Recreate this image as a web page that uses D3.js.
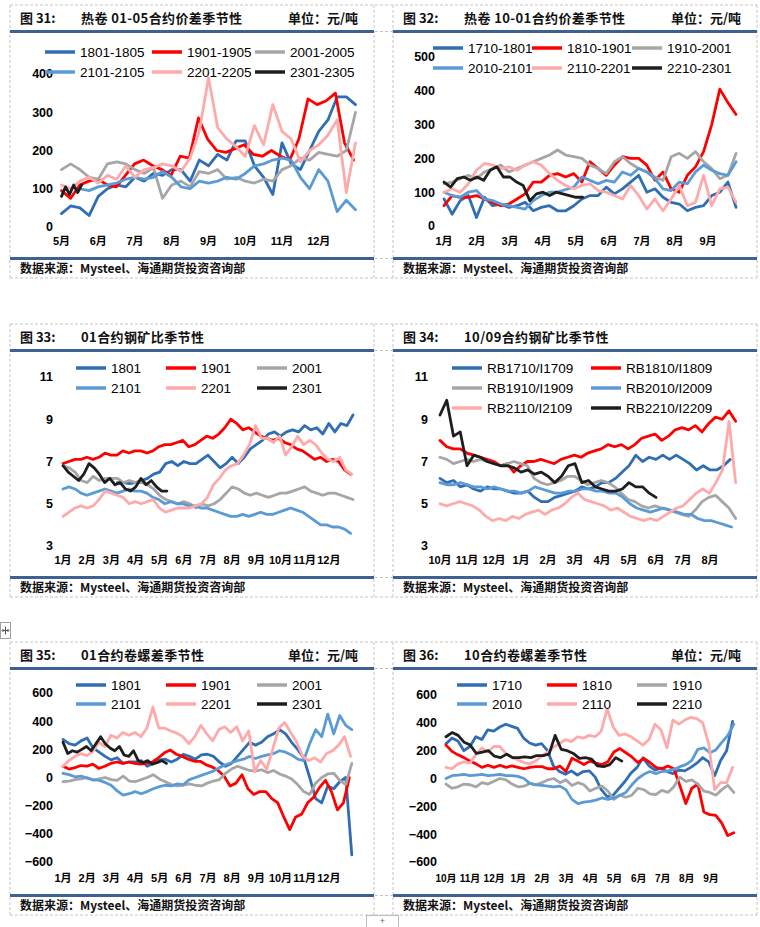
<!DOCTYPE html>
<html><head><meta charset="utf-8">
<script src="https://cdn.jsdelivr.net/npm/d3@7"></script>
<style>body{margin:0;background:#fff}svg{display:block}</style>
</head><body>
<svg id="c" width="760" height="927"></svg>
<script>
// ---------------- DATA ----------------
const names31 = ["1801-1805","1901-1905","2001-2005","2101-2105","2201-2205","2301-2305"];
const months31 = ["5月","6月","7月","8月","9月","10月","11月","12月"];
const yTicks31 = [0,100,200,300,400];
const spans31 = [[0,8],[0,7.95],[0,8],[0.5,8],[0,8],[0,0.55]];
const s31a = [35,55,50,30,80,100,110,105,130,120,140,135,150,150,120,175,160,190,175,225,225,160,130,85,220,165,150,200,250,280,340,340,320];
const s31b = [95,75,110,120,125,110,105,135,165,175,160,150,135,185,180,285,230,200,195,205,215,190,185,200,185,175,230,335,320,330,350,220,175];
const s31c = [150,165,150,130,125,165,170,165,150,140,155,75,110,120,105,145,140,150,125,130,120,115,125,120,150,160,180,175,195,190,185,200,300];
const s31d = [100,95,105,110,115,125,130,125,130,145,130,105,100,120,115,120,130,125,140,160,165,175,180,175,130,100,150,120,40,70,45];
const s31e = [110,100,120,130,115,135,125,160,130,150,155,165,160,145,180,250,390,260,230,210,185,265,215,320,250,230,170,200,215,240,280,90,220];
const s31f = [80,105,85,110,90,110];

const names32 = ["1710-1801","1810-1901","1910-2001","2010-2101","2110-2201","2210-2301"];
const months32 = ["1月","2月","3月","4月","5月","6月","7月","8月","9月"];
const yTicks32 = [0,100,200,300,400,500];
const spans32 = [[0,8.85],[0,8.85],[0,8.85],[0,8.85],[0,8.85],[0,4.2]];
const s32a = [80,35,75,90,25,85,60,65,55,60,70,45,55,60,45,45,60,80,90,90,115,95,110,130,150,100,110,85,70,65,45,55,60,90,100,130,55];
const s32b = [60,90,85,85,90,80,70,60,65,80,95,130,130,150,155,145,155,130,190,170,150,180,205,200,200,180,135,160,110,100,150,175,220,300,405,365,330];
const s32c = [125,130,140,150,140,160,170,180,160,170,180,190,200,210,225,210,205,200,180,170,155,190,205,185,170,160,145,135,205,215,200,220,190,170,140,150,215];
const s32d = [100,90,85,100,105,80,75,65,60,55,50,75,90,100,100,108,115,145,135,125,135,130,160,150,170,160,140,110,105,130,125,160,180,165,155,150,190];
const s32e = [100,110,100,125,165,185,180,170,175,165,180,190,180,155,135,120,110,120,125,105,100,90,80,120,90,50,80,45,80,120,60,70,150,60,110,115,70];
const s32f = [130,115,140,145,135,145,135,165,175,145,145,130,120,75,95,100,90,100,95,90,85,85];

const names33 = ["1801","1901","2001","2101","2201","2301"];
const months33 = ["1月","2月","3月","4月","5月","6月","7月","8月","9月","10月","11月","12月"];
const yTicks33 = [3,5,7,9,11];
const spans33 = [[2.25,12],[0,11.9],[0,12],[0,11.9],[0,11.95],[0,4.3]];
const s33a = [6.0,6.0,5.95,6.0,6.1,6.2,6.4,6.5,6.9,7.0,6.8,7.0,6.9,6.9,7.1,7.3,7.0,6.7,6.9,7.2,6.9,7.2,7.6,7.8,8.0,8.3,8.4,8.2,8.4,8.5,8.4,8.7,8.5,8.6,8.3,8.8,8.4,8.8,8.7,9.2];
const s33b = [6.9,7.0,7.1,7.1,7.2,7.1,7.2,7.4,7.3,7.3,7.5,7.4,7.5,7.5,7.4,7.5,7.7,7.8,7.8,7.9,8.0,7.7,7.8,8.0,8.2,8.1,8.3,8.6,9.0,8.8,8.5,8.6,8.4,8.2,8.1,8.0,8.1,7.9,7.8,7.6,7.5,7.3,7.1,7.2,7.0,7.1,7.0,6.6,6.4];
const s33c = [6.8,6.7,6.5,6.1,6.0,6.3,6.1,6.2,6.2,6.2,6.0,6.1,6.0,6.0,5.9,5.7,5.4,5.2,5.1,5.0,5.1,5.0,4.8,5.0,4.9,5.0,5.2,5.5,5.8,5.7,5.5,5.4,5.5,5.4,5.3,5.4,5.5,5.5,5.6,5.7,5.8,5.6,5.5,5.4,5.5,5.5,5.4,5.3,5.2];
const s33d = [5.7,5.8,5.7,5.5,5.4,5.5,5.6,5.7,5.6,5.5,5.6,5.7,5.6,5.6,5.5,5.3,5.2,5.0,5.1,5.0,5.0,4.9,4.9,4.8,4.8,4.7,4.6,4.5,4.4,4.4,4.5,4.4,4.5,4.6,4.5,4.5,4.6,4.7,4.8,4.7,4.6,4.4,4.2,4.0,4.0,3.9,3.9,3.8,3.6];
const s33e = [4.4,4.6,4.8,4.9,4.8,4.9,5.2,5.6,5.5,5.4,5.3,5.0,5.1,5.0,5.1,5.2,4.8,4.6,4.7,4.8,4.8,4.8,4.9,5.0,5.3,5.9,6.2,6.6,6.8,6.9,7.3,7.8,8.7,8.1,8.1,7.9,8.2,7.3,7.7,8.2,7.8,8.0,7.8,7.4,7.1,7.0,7.2,6.6,6.4];
const s33f = [6.8,6.5,6.3,6.1,6.4,6.9,6.7,6.4,6.0,6.2,5.9,6.0,5.7,5.6,5.8,6.2,5.9,6.1,5.8,5.6,5.6];

const names34 = ["RB1710/I1709","RB1810/I1809","RB1910/I1909","RB2010/I2009","RB2110/I2109","RB2210/I2209"];
const months34 = ["10月","11月","12月","1月","2月","3月","4月","5月","6月","7月","8月"];
const yTicks34 = [3,5,7,9,11];
const spans34 = [[0,10.75],[0,10.95],[0,10.95],[0,10.8],[0,10.95],[0,8.0]];
const s34a = [6.2,6.0,6.1,5.8,5.9,5.7,5.6,5.8,5.7,5.7,5.6,5.5,5.5,5.6,5.3,5.1,5.1,5.3,5.4,5.5,5.6,5.8,5.7,5.8,6.0,6.0,6.2,6.5,6.8,7.3,7.0,7.2,7.1,7.3,7.1,7.3,7.1,6.9,6.6,6.8,6.6,6.6,6.8,7.1];
const s34b = [8.0,7.7,7.6,7.6,7.4,7.3,7.2,7.1,7.0,6.8,6.9,6.5,6.8,7.0,7.0,7.1,7.0,6.9,7.1,7.2,7.3,7.2,7.4,7.5,7.6,7.8,7.7,7.8,7.6,7.8,8.1,8.2,8.3,8.0,8.2,8.5,8.6,8.5,8.7,8.4,8.8,9.1,9.0,9.4,8.9];
const s34c = [7.2,7.1,6.9,7.0,7.1,7.0,7.1,7.0,6.9,6.8,6.9,7.0,6.9,6.8,6.2,6.0,5.9,6.0,6.1,6.3,6.3,6.1,5.9,6.0,6.1,6.0,5.8,5.5,5.2,5.1,4.9,4.8,4.9,4.8,4.7,4.6,4.5,4.4,4.7,5.1,5.3,5.4,5.1,4.8,4.3];
const s34d = [6.0,5.9,5.9,6.0,5.9,5.8,5.8,5.7,5.8,5.7,5.6,5.6,5.5,5.6,5.8,5.7,5.6,5.5,5.5,5.6,5.6,5.7,5.7,5.6,5.6,5.5,5.5,5.3,5.0,4.8,4.7,4.6,4.7,4.8,4.7,4.6,4.5,4.5,4.3,4.2,4.2,4.1,4.0,3.9];
const s34e = [5.0,4.9,5.0,5.1,5.0,4.9,4.7,4.4,4.2,4.3,4.2,4.4,4.3,4.5,4.6,4.7,4.5,4.7,4.8,5.0,5.3,5.5,5.2,5.1,5.0,4.9,4.7,4.8,4.6,4.4,4.3,4.2,4.3,4.2,4.4,4.6,4.8,4.9,5.2,5.5,5.7,5.5,6.0,6.6,8.9,6.0];
const s34f = [9.2,9.9,8.2,8.4,6.8,7.3,7.2,7.0,6.9,6.8,6.8,6.7,6.5,6.6,6.4,6.5,6.3,6.0,6.3,6.8,6.9,6.0,6.1,5.8,5.7,5.6,5.6,5.7,6.0,5.8,5.8,5.5,5.3];

const names35 = ["1801","1901","2001","2101","2201","2301"];
const months35 = ["1月","2月","3月","4月","5月","6月","7月","8月","9月","10月","11月","12月"];
const yTicks35 = [-600,-400,-200,0,200,400,600];
const spans35 = [[0,11.95],[0,11.85],[0,11.95],[0,11.95],[0,11.9],[0,4.28]];
const s35a = [270,240,230,260,280,210,180,150,125,140,100,110,110,120,80,100,125,130,110,130,165,150,130,160,165,150,110,80,100,150,200,250,230,250,290,310,340,310,250,200,140,0,-150,-180,-60,-80,-30,0,-550];
const s35b = [80,60,70,85,80,95,65,80,100,110,100,110,100,95,100,110,140,175,195,165,150,130,115,115,90,75,50,10,-60,-40,20,-80,-120,-100,-100,-150,-180,-280,-370,-280,-260,-180,-140,-70,-20,-100,-230,-180,0];
const s35c = [-30,-25,-15,-10,0,-20,-10,0,-15,-20,10,-25,-30,-15,0,20,-10,-30,-50,-60,-55,-45,-55,-60,-40,-25,-15,30,60,80,65,50,45,55,35,50,25,10,-10,-50,-100,-120,-40,0,25,30,-20,-50,100];
const s35d = [30,20,5,10,-5,-15,-20,-35,-55,-95,-125,-115,-100,-115,-100,-80,-65,-55,-60,-45,-50,-15,0,15,30,45,70,90,105,120,130,150,135,150,160,170,190,180,160,130,120,240,340,290,450,310,440,370,340];
const s35e = [80,120,150,170,155,185,250,220,300,280,320,300,320,290,350,500,350,350,330,315,290,240,290,370,310,260,340,360,320,360,260,330,40,120,60,200,350,390,320,250,150,120,140,110,170,190,230,290,150];
const s35f = [250,170,190,180,200,220,190,240,290,240,210,190,220,160,150,190,120,105,120,95,105,120,100];

const names36 = ["1710","1810","1910","2010","2110","2210"];
const months36 = ["10月","11月","12月","1月","2月","3月","4月","5月","6月","7月","8月","9月"];
const yTicks36 = [-600,-400,-200,0,200,400,600];
const spans36 = [[0,11.9],[0,11.95],[0,11.95],[0,11.95],[0,11.9],[0,7.3]];
const s36a = [250,290,270,200,230,300,280,350,340,370,390,375,360,290,255,240,250,200,90,50,30,55,25,50,55,10,-80,-130,-120,-70,-20,40,80,150,90,60,75,50,35,60,55,80,110,150,120,20,130,200,410];
const s36b = [240,195,170,150,125,105,80,95,80,95,80,90,80,70,80,85,85,70,70,90,50,145,125,100,125,110,100,120,190,215,185,155,115,145,115,80,70,90,70,-50,-180,-70,-40,-240,-260,-265,-320,-410,-390];
const s36c = [-40,-70,-60,-40,-45,-60,-30,-40,-20,0,-10,-40,-60,-55,-35,-45,-30,-10,0,-30,-10,-50,-30,-45,-90,-70,-55,-90,-150,-120,-135,-120,-70,-80,-110,-115,-85,-100,-60,10,-20,-10,-40,-90,-100,-120,-80,-50,-100];
const s36d = [0,20,25,30,20,25,30,20,25,30,20,20,15,0,-35,-45,-50,-55,-60,-55,-80,-150,-180,-170,-165,-155,-140,-150,-140,-120,-100,-45,0,30,50,35,50,55,65,85,100,130,210,220,185,205,260,310,390];
const s36e = [80,70,105,120,110,170,220,190,230,230,180,150,135,115,105,125,160,190,225,250,280,265,300,290,310,300,340,500,370,310,320,300,270,240,280,390,350,220,420,390,420,440,430,400,250,-80,-30,-30,80];
const s36f = [300,330,310,260,240,180,190,200,160,150,175,150,150,155,150,165,165,175,310,210,200,180,145,150,140,90,85,100,150,125];

// ---------------- STYLE / LAYOUT ----------------
const colors = ["#2F6EB5","#FF0000","#A6A6A6","#5B9BD5","#FFAAAA","#1E1E1E"];
const FONT_MIX = "'Liberation Sans','Noto Sans CJK SC',Arial,sans-serif";
const FONT_CJK = "'Noto Sans CJK SC','Liberation Sans',sans-serif";
const RULE = "#3C6192";
const GRID = "#C4C4C4";

const panels = [
  {T:5, L:10, fig:"图 31:", title:"热卷 01-05合约价差季节性", unit:true, names:names31, series:[s31a,s31b,s31c,s31d,s31e,s31f], spans:spans31, months:months31, yTicks:yTicks31,
   xDom:[0,8], xR:[61.5,355.5], yR:[227,74], yLabX:53, legX:[45,152,255], legY:[52,72], xFont:11},
  {T:5, L:393, fig:"图 32:", title:"热卷 10-01合约价差季节性", unit:true, names:names32, series:[s32a,s32b,s32c,s32d,s32e,s32f], spans:spans32, months:months32, yTicks:yTicks32,
   xDom:[0,9], xR:[444,741], yR:[226,57], yLabX:435, legX:[433,532,632], legY:[48,68], xFont:11},
  {T:324, L:10, fig:"图 33:", title:"01合约钢矿比季节性", unit:false, names:names33, series:[s33a,s33b,s33c,s33d,s33e,s33f], spans:spans33, months:months33, yTicks:yTicks33,
   xDom:[0,12], xR:[63,353], yR:[546,377], yLabX:53, legX:[76,166,257], legY:[368,388], xFont:11},
  {T:324, L:393, fig:"图 34:", title:"10/09合约钢矿比季节性", unit:false, names:names34, series:[s34a,s34b,s34c,s34d,s34e,s34f], spans:spans34, months:months34, yTicks:yTicks34,
   xDom:[0,11], xR:[440,737], yR:[546,377], yLabX:428, legX:[452,591], legY:[368,388,408], xFont:11},
  {T:642, L:10, fig:"图 35:", title:"01合约卷螺差季节性", unit:true, names:names35, series:[s35a,s35b,s35c,s35d,s35e,s35f], spans:spans35, months:months35, yTicks:yTicks35,
   xDom:[0,12], xR:[63,353], yR:[862,693], yLabX:53, legX:[76,166,257], legY:[685,704], xFont:11},
  {T:642, L:393, fig:"图 36:", title:"10合约卷螺差季节性", unit:true, names:names36, series:[s36a,s36b,s36c,s36d,s36e,s36f], spans:spans36, months:months36, yTicks:yTicks36,
   xDom:[0,12], xR:[446,735], yR:[862,695], yLabX:437, legX:[457,547,637], legY:[685,704], xFont:10}
];

const svg = d3.select("#c");
svg.append("rect").attr("width",760).attr("height",927).attr("fill","#fff");

// table grid (dashed)
const grid = svg.append("g").attr("stroke",GRID).attr("stroke-width",1).attr("stroke-dasharray","3,2").attr("fill","none");
[5,324,642].forEach(T=>{
  [T, T+26.5, T+253.5, T+273].forEach(y=>grid.append("line").attr("x1",10).attr("x2",757).attr("y1",y).attr("y2",y));
  [10,374,393,757].forEach(x=>grid.append("line").attr("x1",x).attr("x2",x).attr("y1",T).attr("y2",T+273));
});

// small handles
const h = svg.append("g");
h.append("rect").attr("x",0.5).attr("y",622.5).attr("width",10).attr("height",16).attr("fill","#fff").attr("stroke","#A0A0A0");
h.append("path").attr("d","M2.5,630.5H8.5M5.5,626.5V634.5M3.5,629l-1.5,1.5 1.5,1.5M7.5,629l1.5,1.5 -1.5,1.5").attr("stroke","#555").attr("fill","none").attr("stroke-width",1);
h.append("rect").attr("x",366.5).attr("y",915.5).attr("width",32).attr("height",14).attr("fill","#fff").attr("stroke","#BBBBBB");
h.append("text").attr("x",382.5).attr("y",921.5).attr("dy","0.32em").attr("text-anchor","middle").attr("font-family",FONT_MIX).attr("font-size",9).attr("fill","#666").text("+");

panels.forEach(p=>{
  const g = svg.append("g");
  const T = p.T, L = p.L;
  // header & footer rules
  g.append("line").attr("x1",L).attr("x2",L+364).attr("y1",T+26.5).attr("y2",T+26.5).attr("stroke",RULE).attr("stroke-width",3);
  g.append("line").attr("x1",L).attr("x2",L+364).attr("y1",T+253.5).attr("y2",T+253.5).attr("stroke",RULE).attr("stroke-width",3);
  // titles
  g.append("text").attr("x",L+10).attr("y",T+18).attr("font-family",FONT_CJK).attr("font-weight","bold").attr("font-size",13).attr("fill","#111").text(p.fig);
  g.append("text").attr("x",L+71).attr("y",T+18).attr("font-family",FONT_CJK).attr("font-weight","bold").attr("font-size",13).attr("fill","#111").attr("letter-spacing",0.4).text(p.title);
  if (p.unit) g.append("text").attr("x",L+348).attr("y",T+18).attr("text-anchor","end").attr("font-family",FONT_CJK).attr("font-weight","bold").attr("font-size",13).attr("fill","#111").text("单位：元/吨");
  g.append("text").attr("x",L+10).attr("y",T+268).attr("font-family",FONT_CJK).attr("font-weight","bold").attr("font-size",12).attr("fill","#111").text("数据来源：Mysteel、海通期货投资咨询部");

  // scales
  const x = d3.scaleLinear().domain(p.xDom).range(p.xR);
  const y = d3.scaleLinear().domain([p.yTicks[0], p.yTicks[p.yTicks.length-1]]).range(p.yR);

  // y labels
  g.append("g").selectAll("text").data(p.yTicks).join("text")
    .attr("x",p.yLabX).attr("y",d=>y(d)).attr("dy","0.35em").attr("text-anchor","end")
    .attr("font-family",FONT_MIX).attr("font-weight","bold").attr("font-size",12.5).attr("fill","#000")
    .text(d=>d3.format("d")(d));
  // x labels
  g.append("g").selectAll("text").data(p.months).join("text")
    .attr("x",(d,i)=>x(i)).attr("y",T+236).attr("dy","0.35em").attr("text-anchor","middle")
    .attr("font-family",FONT_MIX).attr("font-weight","bold").attr("font-size",p.xFont).attr("fill","#000")
    .text(d=>d);

  // lines
  const lg = g.append("g").attr("fill","none").attr("stroke-linejoin","round").attr("stroke-linecap","round");
  p.series.forEach((vals,k)=>{
    const [a,b] = p.spans[k];
    const n = vals.length;
    const line = d3.line().x((d,i)=>x(a + i*(b-a)/(n-1))).y(d=>y(d));
    lg.append("path").attr("d",line(vals)).attr("stroke",colors[k]).attr("stroke-width",2.8);
  });

  // legend
  const ncol = p.legX.length;
  p.names.forEach((nm,k)=>{
    const cx = p.legX[k % ncol], cy = p.legY[Math.floor(k / ncol)];
    g.append("line").attr("x1",cx).attr("x2",cx+30).attr("y1",cy).attr("y2",cy).attr("stroke",colors[k]).attr("stroke-width",3.5);
    g.append("text").attr("x",cx+35).attr("y",cy).attr("dy","0.35em").attr("font-family",FONT_MIX).attr("font-size",13.5).attr("fill","#000").text(nm);
  });
});
</script>
</body></html>
